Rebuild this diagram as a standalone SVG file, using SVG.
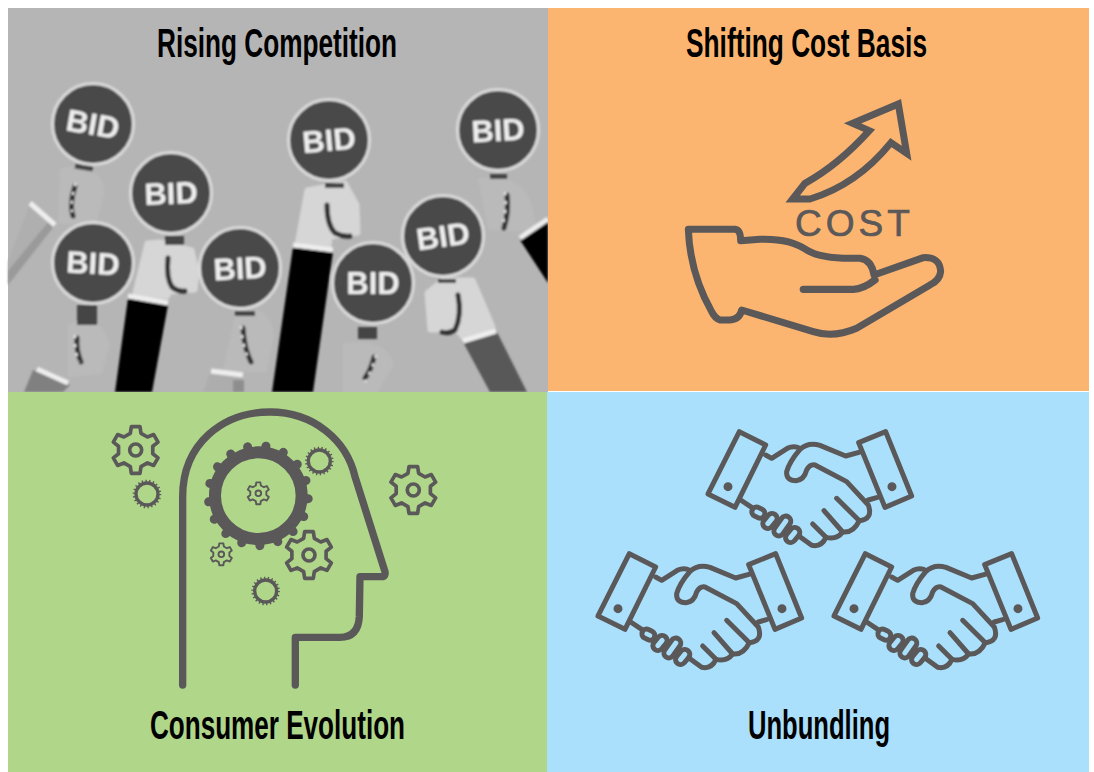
<svg xmlns="http://www.w3.org/2000/svg" xmlns:xlink="http://www.w3.org/1999/xlink" width="1094" height="772" viewBox="0 0 1094 772">
<style>
.title{font-family:"Liberation Sans Narrow","Liberation Sans",Arial,sans-serif;font-weight:700;font-size:40px;fill:#000}
.ink{fill:none;stroke:#5a5859;stroke-linecap:round;stroke-linejoin:round}
.bidt{font-family:"Liberation Sans",Arial,sans-serif;font-weight:700;font-size:31px;fill:#f0f0f0;text-anchor:middle}
.disc{fill:#4a4a4a;stroke:#dcdcdc;stroke-width:3}
.handle{fill:#454545}
.fist{fill:#d6d6d6;stroke:#d6d6d6;stroke-width:5;stroke-linejoin:round}
.fade{fill:#bababa;stroke:#bababa;stroke-width:4;stroke-linejoin:round}
.cuff{stroke:#eeeeee;stroke-width:5;fill:none}
.mark{stroke:#333;stroke-width:5;fill:none;stroke-linecap:round}
.dots{stroke:#e6e6e6;stroke-width:2.5;fill:none;stroke-dasharray:3 6}
.tooth{stroke:#5a5859;stroke-width:27;stroke-linecap:round}
</style>
<defs>
<filter id="soft" x="-5%" y="-5%" width="110%" height="110%"><feGaussianBlur stdDeviation="1"/></filter>
<g id="gear6"><path d="M-16,-50L-13,-70L13,-70L16,-50L35.3,-38.9L54.1,-46.3L67.1,-23.7L51.3,-11.1L51.3,11.1L67.1,23.7L54.1,46.3L35.3,38.9L16,50L13,70L-13,70L-16,50L-35.3,38.9L-54.1,46.3L-67.1,23.7L-51.3,11.1L-51.3,-11.1L-67.1,-23.7L-54.1,-46.3L-35.3,-38.9Z"/><circle r="18"/></g>
<g id="gearRing"><circle r="33" class="ink" stroke-width="10"/><circle r="39" pathLength="22" stroke="#5a5859" fill="none" stroke-width="8" stroke-dasharray="0.35 0.65"/></g>
<g id="shake" class="ink" stroke-width="15">
<path d="M118,35L197,75L105,262L24,222Z"/>
<path d="M476,68L557,35L635,228L555,262Z"/>
<path d="M197,105L215,115L262,85Q282,75 300,85"/>
<path d="M485,95L437,108L360,76Q325,65 300,88Q268,125 260,155Q258,182 288,182Q312,180 320,150Q330,132 345,135L440,185L505,255Q520,298 478,302L410,235"/>
<path d="M478,302Q460,340 428,336L372,272"/>
<path d="M428,336Q410,360 378,352L338,312"/>
<path d="M378,352Q365,382 335,376L302,352"/>
<path d="M505,240L530,233"/>
<path d="M122,240L155,262"/>
<rect x="-20" y="-14" width="40" height="28" rx="14" transform="translate(175,278) rotate(25)"/>
<rect x="-25" y="-15" width="50" height="30" rx="15" transform="translate(210,303) rotate(-50)"/>
<rect x="-33" y="-15" width="66" height="30" rx="15" transform="translate(247,318) rotate(-55)"/>
<rect x="-25" y="-15" width="50" height="30" rx="15" transform="translate(278,345) rotate(-50)"/>
<circle cx="84" cy="200" r="6" fill="#5a5859"/>
<circle cx="576" cy="200" r="6" fill="#5a5859"/>
</g>
</defs>
<rect width="1094" height="772" fill="#fff"/>

<g id="panel-rising">
<rect x="8" y="8" width="540" height="384" fill="#b5b5b5"/>
<g filter="url(#soft)">
<path d="M8,262L30,203L55,225L8,285Z" fill="#afafaf"/>
<path d="M8,271L50,220L55,225L8,285Z" fill="#9a9a9a"/>
<path d="M33,370L70,385L63,392L24,392Z" fill="#808080"/>
<path d="M210,372L243,375L243,392L203,392Z" fill="#adadad"/>
<path d="M233,380L244,380L244,392L233,392Z" fill="#8e8e8e"/>
<path d="M62,170Q95,160 103,190L95,222L60,222Z" class="fade"/>
<path d="M70,325Q100,315 108,345L100,372L70,375Z" class="fade"/>
<path d="M238,312Q268,305 272,335L265,370L225,370Z" class="fade"/>
<path d="M345,345Q385,340 392,365L375,392L345,392Z" class="fade"/>
<path d="M480,180Q520,175 530,205L535,230L490,228Z" class="fade"/>
<path class="cuff" d="M30,203L55,225"/>
<path class="cuff" d="M37,369L68,383"/>
<path class="cuff" d="M211,371L243,375"/>
<path class="mark" d="M75,186Q69,205 73,216"/>
<path class="dots" d="M76,183Q70,200 72,212"/>
<path class="mark" d="M77,338Q76,350 81,362"/>
<path class="dots" d="M75,335Q74,350 79,362"/>
<path class="mark" d="M243,328Q244,348 251,362"/>
<path class="dots" d="M241,326Q242,345 249,360"/>
<path class="mark" d="M507,195Q509,212 504,228"/>
<path class="dots" d="M505,192Q507,210 502,226"/>
<path class="mark" d="M374,357Q371,370 365,378"/>
<path class="dots" d="M376,355Q373,368 365,382"/>
<path d="M128,298L168,305L152,392L115,392Z" fill="#000"/>
<path d="M147,243L160,242L192,250L197,272L195,290L170,292L167,297L135,293Z" class="fist"/>
<path d="M128,296L168,303" class="cuff"/>
<path d="M168,258Q166,278 172,287Q178,292 185,291" class="mark"/>
<path d="M293,247L333,252L313,392L272,392Z" fill="#000"/>
<path d="M307,190L345,183L357,205L358,233L330,237L329,247L297,245Z" class="fist"/>
<path d="M293,245L333,250" class="cuff"/>
<path d="M327,205Q327,225 335,233Q343,237 350,236" class="mark"/>
<path d="M463,342L497,332L527,392L490,392Z" fill="#585858"/>
<path d="M427,293L443,280L473,280L493,327L465,340L457,330L430,330Z" class="fist"/>
<path d="M463,341L496,331" class="cuff"/>
<path d="M458,295Q462,315 455,330Q448,334 442,332" class="mark"/>
<path d="M520,240L548,219L548,283Z" fill="#000"/>
<path d="M520,238L548,219" class="cuff"/>
<rect x="75" y="165" width="18" height="5" class="handle" transform="rotate(10 84 167)"/>
<rect x="165" y="236" width="19" height="9" class="handle"/>
<rect x="77" y="305" width="20" height="20" class="handle"/>
<rect x="235" y="311" width="20" height="5" class="handle"/>
<rect x="325" y="183" width="19" height="5" class="handle"/>
<rect x="490" y="174" width="17" height="5" class="handle"/>
<rect x="438" y="279" width="18" height="4" class="handle"/>
<rect x="358" y="327" width="19" height="12" class="handle"/>
<g id="bid1"><circle cx="93" cy="124" r="40.5" class="disc"/><text class="bidt" x="93" y="135" transform="rotate(10 93 124)">BID</text></g>
<g id="bid2"><circle cx="171" cy="193" r="40.5" class="disc"/><text class="bidt" x="171" y="204" transform="rotate(-2 171 193)">BID</text></g>
<g id="bid3"><circle cx="93" cy="263" r="40.5" class="disc"/><text class="bidt" x="93" y="274" transform="rotate(3 93 263)">BID</text></g>
<g id="bid4"><circle cx="240" cy="268" r="40.5" class="disc"/><text class="bidt" x="240" y="279" transform="rotate(-3 240 268)">BID</text></g>
<g id="bid5"><circle cx="329" cy="140" r="40.5" class="disc"/><text class="bidt" x="329" y="151" transform="rotate(-5 329 140)">BID</text></g>
<g id="bid6"><circle cx="498" cy="130" r="40.5" class="disc"/><text class="bidt" x="498" y="141" transform="rotate(-3 498 130)">BID</text></g>
<g id="bid7"><circle cx="443" cy="236" r="40.5" class="disc"/><text class="bidt" x="443" y="247" transform="rotate(-8 443 236)">BID</text></g>
<g id="bid8"><circle cx="373" cy="283" r="40.5" class="disc"/><text class="bidt" x="373" y="294" transform="rotate(0 373 283)">BID</text></g>
</g>
<text class="title" x="157" y="57" textLength="240" lengthAdjust="spacingAndGlyphs">Rising Competition</text>
</g>

<g id="panel-cost">
<rect x="548" y="8" width="541" height="383" fill="#fcb571"/>
<g transform="translate(670,90) scale(.3333)" class="ink" stroke-width="21">
<path stroke-linejoin="miter" d="M368,327L405,280Q505,225 598,122L548,100L685,42L710,190L663,158Q560,285 420,327Z"/>
<path d="M55,418L195,418Q212,420 212,452L270,448Q360,445 410,480Q450,505 540,505L570,505Q605,510 612,555L760,503Q810,500 812,545Q810,570 780,585L560,715Q490,745 430,725L215,660Q210,688 180,690L150,690Q135,685 125,665Q60,550 55,418Z"/>
<path d="M400,598L550,598Q580,598 615,570" stroke-width="22"/>
</g>
<text x="795" y="236" font-family="Liberation Sans, Arial, sans-serif" font-size="37" fill="#5a5859" stroke="#5a5859" stroke-width=".7" letter-spacing="4">COST</text>
<text class="title" x="686" y="57" textLength="241" lengthAdjust="spacingAndGlyphs">Shifting Cost Basis</text>
</g>

<g id="panel-consumer">
<rect x="8" y="392" width="539" height="380" fill="#b0d68a"/>
<g transform="translate(100,400) scale(.3333)">
<path class="ink" stroke-width="22" d="M248,855L248,290C248,130 370,36 510,36C640,36 740,120 765,230L855,515Q858,530 845,530L780,530L778,650Q775,712 720,712L586,712L586,855"/>
<circle cx="475" cy="287" r="130" fill="none" stroke="#5a5859" stroke-width="36"/>
<g transform="translate(475,287)">
<line class="tooth" x1="138" x2="150" transform="rotate(3.5)"/>
<line class="tooth" x1="138" x2="150" transform="rotate(24.7)"/>
<line class="tooth" x1="138" x2="150" transform="rotate(45.9)"/>
<line class="tooth" x1="138" x2="150" transform="rotate(67)"/>
<line class="tooth" x1="138" x2="150" transform="rotate(88.2)"/>
<line class="tooth" x1="138" x2="150" transform="rotate(109.4)"/>
<line class="tooth" x1="138" x2="150" transform="rotate(130.6)"/>
<line class="tooth" x1="138" x2="150" transform="rotate(151.8)"/>
<line class="tooth" x1="138" x2="150" transform="rotate(172.9)"/>
<line class="tooth" x1="138" x2="150" transform="rotate(194.1)"/>
<line class="tooth" x1="138" x2="150" transform="rotate(215.3)"/>
<line class="tooth" x1="138" x2="150" transform="rotate(236.5)"/>
<line class="tooth" x1="138" x2="150" transform="rotate(257.6)"/>
<line class="tooth" x1="138" x2="150" transform="rotate(278.8)"/>
<line class="tooth" x1="138" x2="150" transform="rotate(300)"/>
<line class="tooth" x1="138" x2="150" transform="rotate(321.2)"/>
<line class="tooth" x1="138" x2="150" transform="rotate(342.4)"/>
</g>
<g class="ink" stroke-width="11">
<use xlink:href="#gear6" href="#gear6" transform="translate(107,150)"/>
<use xlink:href="#gear6" href="#gear6" transform="translate(940,270)"/>
<use xlink:href="#gear6" href="#gear6" transform="translate(627,465)"/>
</g>
<g class="ink" stroke-width="12">
<use xlink:href="#gear6" href="#gear6" transform="translate(475,280) scale(.47)"/>
<use xlink:href="#gear6" href="#gear6" transform="translate(364,463) scale(.47)"/>
</g>
<use xlink:href="#gearRing" href="#gearRing" transform="translate(658,183)"/>
<use xlink:href="#gearRing" href="#gearRing" transform="translate(141,282)"/>
<use xlink:href="#gearRing" href="#gearRing" transform="translate(497,573)"/>
</g>
<text class="title" x="150" y="739" textLength="255" lengthAdjust="spacingAndGlyphs">Consumer Evolution</text>
</g>

<g id="panel-unbundling">
<rect x="547" y="392" width="542" height="380" fill="#aae0fc"/>
<use xlink:href="#shake" href="#shake" transform="translate(700,420) scale(.3333)"/>
<use xlink:href="#shake" href="#shake" transform="translate(590,542) scale(.3333)"/>
<use xlink:href="#shake" href="#shake" transform="translate(826,542) scale(.3333)"/>
<text class="title" x="748" y="739" textLength="142" lengthAdjust="spacingAndGlyphs">Unbundling</text>
</g>
</svg>
